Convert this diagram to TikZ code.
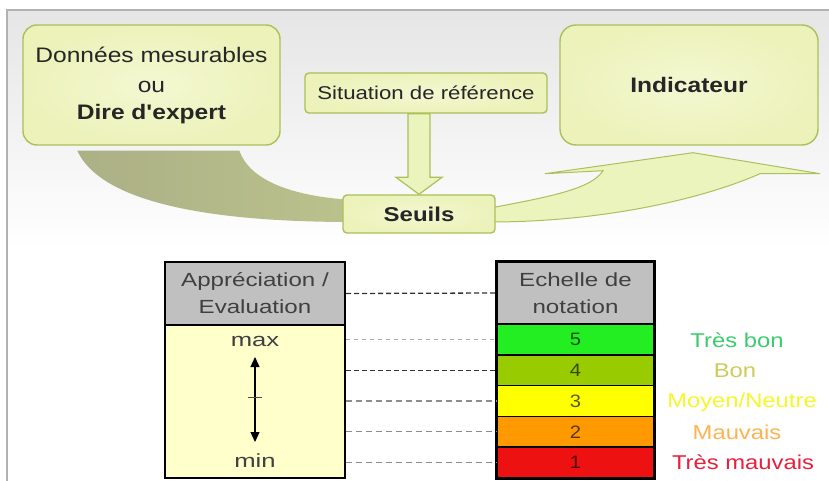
\documentclass[tikz,border=0pt]{standalone}
\usepackage{fontspec}
\setmainfont{Liberation Sans}
\usetikzlibrary{arrows.meta,calc}
\definecolor{boxfill}{RGB}{236,242,186}
\definecolor{boxfillin}{RGB}{244,248,210}
\definecolor{boxline}{RGB}{170,192,90}
\definecolor{bandL}{RGB}{172,176,134}
\definecolor{bandR}{RGB}{186,194,140}
\definecolor{arrfill}{RGB}{236,244,190}
\definecolor{hdrgray}{RGB}{192,192,192}
\definecolor{bodyyel}{RGB}{255,255,204}
\definecolor{cfive}{RGB}{34,238,34}
\definecolor{cfour}{RGB}{153,204,0}
\definecolor{cthree}{RGB}{255,255,0}
\definecolor{ctwo}{RGB}{255,153,0}
\definecolor{cone}{RGB}{238,17,17}
\definecolor{ltrb}{RGB}{60,204,110}
\definecolor{lbon}{RGB}{204,204,90}
\definecolor{lmoy}{RGB}{246,246,40}
\definecolor{lmau}{RGB}{255,178,80}
\definecolor{ltm}{RGB}{232,32,60}
\newcommand\sx[2][1.12]{\scalebox{#1}[1]{#2}}
\begin{document}
\begin{tikzpicture}[x=1pt,y=-1pt,
  gbox/.style={draw=boxline, line width=1.4, inner sep=0pt, text=black!85,
    inner color=boxfillin, outer color=boxfill, align=center},
  hdr/.style={draw=black, line width=2, fill=hdrgray, inner sep=0pt, text=black!75,
    align=center, font=\fontsize{19}{27}\selectfont},
  rowbox/.style={draw=black, line width=1.6, inner sep=0pt, minimum width=157,
    minimum height=30.8, text=black, text opacity=0.65, font=\fontsize{18}{20}\selectfont},
  lbl/.style={font=\fontsize{20}{22}\selectfont, anchor=center},
  dkdash/.style={draw=black!80, line width=1.3, dash pattern=on 5pt off 3pt},
  ltdot/.style={draw=black!35, line width=1.6, dash pattern=on 4pt off 4pt},
  gydash/.style={draw=black!45, line width=1.2, dash pattern=on 6pt off 4pt}
]
\useasboundingbox (0,0) rectangle (829,481);
\fill[white] (0,0) rectangle (829,481);
\shade[top color=black!10, bottom color=white] (7,10) rectangle (829,250);
\draw[black!30, line width=1.6] (7,481) -- (7,10) -- (829,10);

% boxes
\node[gbox, rounded corners=14, minimum width=257, minimum height=120,
  font=\fontsize{21}{31}\selectfont] (don) at (151.5,85)
  {\sx[1.17]{Données mesurables}\\[-1pt]\sx[1.17]{ou}\\[-4pt]\sx[1.17]{\textbf{Dire d\textquotesingle expert}}};
\node[gbox, rounded corners=16, minimum width=258, minimum height=120,
  font=\fontsize{21}{24}\selectfont] (ind) at (689,85) {\sx[1.17]{\textbf{Indicateur}}};
\path (426,93) coordinate (sitc);
\path (419,214) coordinate (seuc);

% grey band from left box to Seuils
\shade[left color=bandL, right color=bandR]
  ($(don.south west)+(55,5)$) .. controls (100,200) and (200,222) .. (352,222)
  -- (352,200) .. controls (290,196) and (250,180) .. ($(don.south west)+(217,5)$) -- cycle;

% light arrow from Seuils to Indicateur
\filldraw[draw=boxline, line width=1, fill=arrfill]
  (490,208) .. controls (555,196) and (592,188) .. ($(ind.south)+(-86,25)$)
  -- ($(ind.south)+(-144,28)$) -- ($(ind.south)+(4,7)$) -- ($(ind.south)+(131,28)$)
  -- ($(ind.south)+(71,28)$) .. controls (700,200) and (600,222) .. (490,222) -- cycle;

\node[gbox, rounded corners=4, minimum width=242, minimum height=40,
  font=\fontsize{18.5}{20}\selectfont] (sit) at (sitc) {\sx[1.2]{Situation de référence}};
\node[gbox, rounded corners=4, minimum width=152, minimum height=38,
  font=\fontsize{20}{22}\selectfont] (seu) at (seuc) {\sx[1.2]{\textbf{Seuils}}};

% hollow arrow Situation -> Seuils
\filldraw[draw=boxline, line width=1.2, fill=arrfill]
  ($(sit.south -| seu.north)+(-11,0)$) -- ($(seu.north)+(-11,-17)$) -- ($(seu.north)+(-23,-17)$)
  -- (seu.north) -- ($(seu.north)+(23,-17)$) -- ($(seu.north)+(11,-17)$)
  -- ($(sit.south -| seu.north)+(11,0)$) -- cycle;

% left table
\node[hdr, minimum width=180, minimum height=63] (app) at (255,293.5)
  {\sx[1.27]{Appréciation /}\\\sx[1.27]{Evaluation}};
\node[draw=black, line width=2, fill=bodyyel, inner sep=0pt, minimum width=180,
  minimum height=153] (eval) at (255,401.5) {};
\node[font=\fontsize{19}{20}\selectfont, text=black!75] (mx) at (255,341) {\sx[1.35]{max}};
\node[font=\fontsize{19}{20}\selectfont, text=black!75] (mn) at (255,461) {\sx[1.35]{min}};
\draw[black, line width=1.2, {Triangle[width=9pt,length=10pt]}-{Triangle[width=9pt,length=10pt]}]
  ($(eval.center)+(0,-44.5)$) -- ($(eval.center)+(0,40.5)$);
\draw[black!70, line width=1] ($(eval.center)+(-7,-4.5)$) -- ($(eval.center)+(7,-4.5)$);

% right table
\node[hdr, minimum width=157, minimum height=62] (ech) at (575.5,293)
  {\sx[1.27]{Echelle de}\\\sx[1.27]{notation}};
\node[rowbox, fill=cfive] (r5) at (575.5,339.4) {\sx{5}};
\node[rowbox, fill=cfour] (r4) at (575.5,370.2) {\sx{4}};
\node[rowbox, fill=cthree] (r3) at (575.5,401) {\sx{3}};
\node[rowbox, fill=ctwo] (r2) at (575.5,431.8) {\sx{2}};
\node[rowbox, fill=cone] (r1) at (575.5,462.6) {\sx{1}};
\draw[black, line width=2] (ech.north west) rectangle (r1.south east);

% dashed links
\draw[dkdash] (app.east) -- (ech.west);
\draw[ltdot] (eval.east |- r5.west) -- (r5.west);
\draw[dkdash] (eval.east |- r4.west) -- (r4.west);
\draw[gydash] (eval.east |- r3.west) -- (r3.west);
\draw[gydash] (eval.east |- r2.west) -- (r2.west);
\draw[gydash] (eval.east |- r1.west) -- (r1.west);

% labels
\node[lbl, text=ltrb] (l5) at (737,340) {\sx[1.19]{Très bon}};
\node[lbl, text=lbon] (l4) at (735,371) {\sx[1.19]{Bon}};
\node[lbl, text=lmoy] (l3) at (742,402) {\sx[1.19]{Moyen/Neutre}};
\node[lbl, text=lmau] (l2) at (737,432) {\sx[1.19]{Mauvais}};
\node[lbl, text=ltm] (l1) at (743,462) {\sx[1.19]{Très mauvais}};
\end{tikzpicture}
\end{document}
